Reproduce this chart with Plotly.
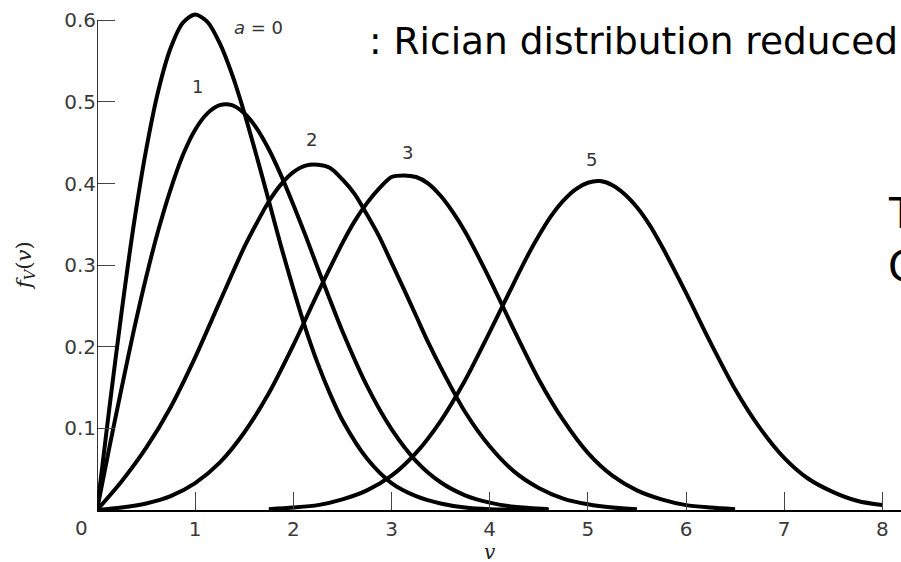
import plotly.graph_objects as go

# Rician density f_V(v) for several values of a (sigma = 1)
v_a0 = [0, 0.125, 0.25, 0.375, 0.5, 0.625, 0.75, 0.875, 1.0, 1.125, 1.25, 1.375, 1.5, 1.625, 1.75, 1.875, 2.0,
        2.125, 2.25, 2.375, 2.5, 2.75, 3.0, 3.25, 3.5, 3.75, 4.0, 4.25, 4.6]
f_a0 = [0, 0.124, 0.242, 0.350, 0.441, 0.514, 0.566, 0.597, 0.607, 0.598, 0.572, 0.534, 0.487, 0.434, 0.379, 0.323,
        0.271, 0.222, 0.179, 0.142, 0.110, 0.063, 0.033, 0.017, 0.008, 0.003, 0.001, 0.0005, 0.0]

v_a1 = [0, 0.125, 0.25, 0.375, 0.5, 0.625, 0.75, 0.875, 1.0, 1.125, 1.25, 1.375, 1.5, 1.625, 1.75, 1.875, 2.0,
        2.125, 2.25, 2.375, 2.5, 2.75, 3.0, 3.25, 3.5, 3.75, 4.0, 4.25, 4.6]
f_a1 = [0, 0.076, 0.149, 0.220, 0.285, 0.343, 0.393, 0.435, 0.466, 0.486, 0.496, 0.496, 0.486, 0.468, 0.442, 0.410,
        0.374, 0.336, 0.296, 0.257, 0.219, 0.152, 0.099, 0.060, 0.034, 0.018, 0.009, 0.004, 0.001]

v_a2 = [0, 0.25, 0.5, 0.75, 1.0, 1.25, 1.5, 1.625, 1.75, 1.875, 2.0, 2.125, 2.25, 2.375, 2.5, 2.625, 2.75, 2.875,
        3.0, 3.125, 3.25, 3.375, 3.5, 3.75, 4.0, 4.25, 4.5, 4.75, 5.0, 5.25, 5.5]
f_a2 = [0, 0.035, 0.076, 0.126, 0.187, 0.255, 0.322, 0.351, 0.378, 0.399, 0.414, 0.422, 0.423, 0.419, 0.405, 0.387,
        0.362, 0.335, 0.303, 0.271, 0.238, 0.205, 0.175, 0.120, 0.078, 0.047, 0.027, 0.014, 0.007, 0.003, 0.001]

v_a3 = [0, 0.25, 0.5, 0.75, 1.0, 1.25, 1.5, 1.75, 2.0, 2.25, 2.5, 2.625, 2.75, 2.875, 3.0, 3.125, 3.25, 3.375, 3.5,
        3.625, 3.75, 4.0, 4.25, 4.5, 4.75, 5.0, 5.25, 5.5, 5.75, 6.0, 6.25, 6.5]
f_a3 = [0, 0.003, 0.008, 0.017, 0.033, 0.058, 0.095, 0.143, 0.202, 0.266, 0.327, 0.354, 0.376, 0.394, 0.408, 0.410,
        0.408, 0.400, 0.385, 0.365, 0.341, 0.283, 0.220, 0.160, 0.110, 0.070, 0.042, 0.024, 0.013, 0.006, 0.003,
        0.001]

v_a5 = [1.75, 2.0, 2.25, 2.5, 2.75, 3.0, 3.25, 3.5, 3.75, 4.0, 4.25, 4.375, 4.5, 4.625, 4.75, 4.875, 5.0, 5.125,
        5.25, 5.375, 5.5, 5.625, 5.75, 6.0, 6.25, 6.5, 6.75, 7.0, 7.25, 7.5, 7.75, 8.0]
f_a5 = [0.001, 0.003, 0.006, 0.013, 0.024, 0.042, 0.070, 0.109, 0.159, 0.218, 0.279, 0.309, 0.336, 0.360, 0.379,
        0.393, 0.401, 0.403, 0.398, 0.387, 0.371, 0.350, 0.324, 0.266, 0.205, 0.148, 0.101, 0.064, 0.038, 0.022,
        0.011, 0.006]

x_ticks = [1, 2, 3, 4, 5, 6, 7, 8]
y_ticks = [0.1, 0.2, 0.3, 0.4, 0.5, 0.6]
y_tick_text = ["0.1", "0.2", "0.3", "0.4", "0.5", "0.6"]

# curve labels: text, x, y (data coordinates)
curve_labels = [
    ("<i>a</i> = 0", 1.64, 0.591),
    ("1", 1.02, 0.519),
    ("2", 2.19, 0.454),
    ("3", 3.16, 0.438),
    ("5", 5.04, 0.429),
]

series = [(v_a0, f_a0), (v_a1, f_a1), (v_a2, f_a2), (v_a3, f_a3), (v_a5, f_a5)]

fig = go.Figure()
for xs, ys in series:
    fig.add_trace(go.Scatter(
        x=xs, y=ys, mode="lines",
        line=dict(color="black", width=4, shape="spline", smoothing=0.8),
        hoverinfo="skip", showlegend=False,
    ))

sans = "DejaVu Sans"
tick_font = dict(family=sans, size=20, color="#3a3a3a")
serif = "DejaVu Serif"

fig.update_layout(
    width=901, height=562,
    margin=dict(l=97, r=0, t=4, b=52),
    paper_bgcolor="white", plot_bgcolor="white",
    xaxis=dict(
        range=[0, 8.19], tickvals=x_ticks, ticktext=[str(t) for t in x_ticks],
        ticks="inside", ticklen=18, tickwidth=1.2, tickcolor="#444",
        showline=True, linecolor="black", linewidth=2,
        showgrid=False, zeroline=False, tickfont=tick_font,
    ),
    yaxis=dict(
        range=[0, 0.62], tickvals=y_ticks, ticktext=y_tick_text,
        ticks="inside", ticklen=18, tickwidth=1.2, tickcolor="#444",
        showline=False, showgrid=False, zeroline=False, tickfont=tick_font,
    ),
)

# left axis stops at 0.6
fig.add_shape(type="line", xref="x", yref="y", x0=0, x1=0, y0=0, y1=0.6,
              line=dict(color="black", width=1.6))

for text, x, y in curve_labels:
    fig.add_annotation(x=x, y=y, xref="x", yref="y", text=text, showarrow=False,
                       xanchor="center", yanchor="middle",
                       font=dict(family=sans, size=18, color="#333"))

# shared origin label
fig.add_annotation(x=-0.0187, y=-0.0356, xref="paper", yref="paper", text="0", showarrow=False,
                   xanchor="center", yanchor="middle", font=tick_font)

# axis titles
fig.add_annotation(x=0.4888, y=-0.083, xref="paper", yref="paper", text="<i>v</i>", showarrow=False,
                   xanchor="center", yanchor="middle",
                   font=dict(family=serif, size=20, color="#222"))
fig.add_annotation(x=-0.0896, y=0.484, xref="paper", yref="paper",
                   text="<i>f</i><sub><i>V</i></sub>(<i>v</i>)", textangle=-90, showarrow=False,
                   xanchor="center", yanchor="middle",
                   font=dict(family=serif, size=21, color="#222"))

# slide text around the figure
fig.add_annotation(x=0.3358, y=0.927, xref="paper", yref="paper", xanchor="left", yanchor="middle",
                   text=": Rician distribution reduced", showarrow=False,
                   font=dict(family="DejaVu Sans", size=37.5, color="black"))
fig.add_annotation(x=0.981, y=0.585, xref="paper", yref="paper", xanchor="left", yanchor="middle",
                   text="T", showarrow=False,
                   font=dict(family="DejaVu Sans", size=42, color="black"))
fig.add_annotation(x=0.981, y=0.482, xref="paper", yref="paper", xanchor="left", yanchor="middle",
                   text="C", showarrow=False,
                   font=dict(family="DejaVu Sans", size=42, color="black"))

fig.write_html("out.html")
